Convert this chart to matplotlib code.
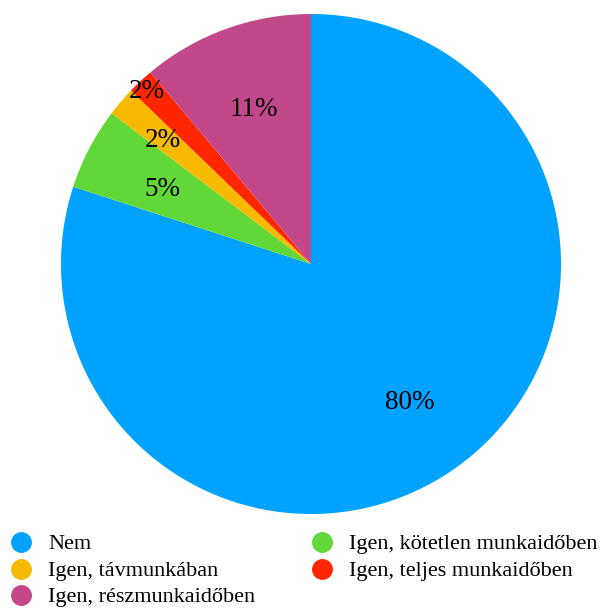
import matplotlib
matplotlib.use("Agg")
import matplotlib.pyplot as plt
from matplotlib.lines import Line2D
import numpy as np

plt.rcParams['font.family'] = ['Liberation Serif', 'DejaVu Serif']

labels = ["Nem", "Igen, kötetlen munkaidőben", "Igen, távmunkában",
          "Igen, teljes munkaidőben", "Igen, részmunkaidőben"]
values = [80.0, 5.3, 1.9, 1.7, 11.1]
pct_labels = ["80%", "5%", "2%", "2%", "11%"]
colors = ["#00a2ff", "#62d838", "#f8ba00", "#ff2600", "#c2488a"]
label_dist = [0.67, 0.67, 0.78, 0.96, 0.67]

W, H = 614, 608
fig = plt.figure(figsize=(W / 100, H / 100), dpi=100)
ax = fig.add_axes([61 / W, (H - 514) / H, 500 / W, 500 / H])
wedges, _ = ax.pie(values, colors=colors, startangle=90, counterclock=False,
                   wedgeprops=dict(linewidth=0))
ax.set_xlim(-1, 1)
ax.set_ylim(-1, 1)
ax.set_aspect('equal')
for w, t, d in zip(wedges, pct_labels, label_dist):
    ang = np.deg2rad((w.theta1 + w.theta2) / 2)
    ax.text(d * np.cos(ang), d * np.sin(ang), t, ha='center', va='center_baseline',
            fontsize=19.5, color='black')

# legend, laid out row-wise in two columns (positions in pixels)
slots = {0: (0, 0), 1: (1, 0), 2: (0, 1), 3: (1, 1), 4: (0, 2)}
col_marker_x = [20.5, 321.5]
col_text_x = [48, 349]
row_baseline_y = [549, 576, 602]
row_marker_y = [542, 569, 595]
for i, (c, r) in slots.items():
    fig.add_artist(Line2D([col_marker_x[c] / W], [1 - row_marker_y[r] / H],
                          transform=fig.transFigure, marker='o', linestyle='none',
                          markersize=14, markerfacecolor=colors[i],
                          markeredgecolor=colors[i]))
    fig.text(col_text_x[c] / W, 1 - row_baseline_y[r] / H, labels[i],
             ha='left', va='baseline', fontsize=16, color='black')

fig.savefig("out.png", dpi=100)
